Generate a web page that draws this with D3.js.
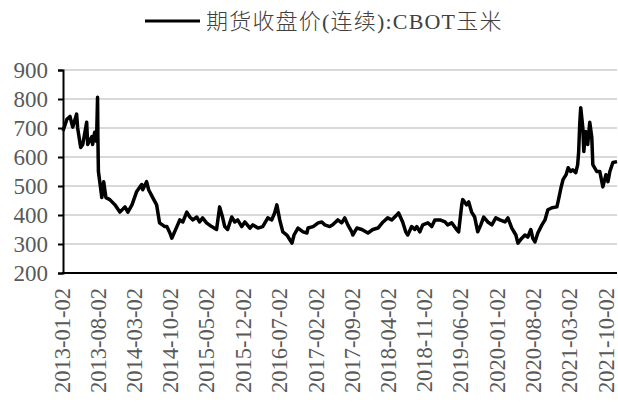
<!DOCTYPE html>
<html>
<head>
<meta charset="utf-8">
<script src="https://cdn.jsdelivr.net/npm/d3@7"></script>
<style>
  body { margin: 0; background: #fff; }
  svg { display: block; }
</style>
</head>
<body>
<svg id="chart" width="618" height="403"></svg>
<script>
// series name
const seriesName = "期货收盘价(连续):CBOT玉米";

// dates + closing prices
const dates = [
  "2013-01-02","2013-01-25","2013-02-12","2013-02-28","2013-03-23","2013-03-29","2013-04-16","2013-04-28",
  "2013-05-21","2013-05-27","2013-06-20","2013-06-25","2013-07-07","2013-07-18","2013-07-24","2013-07-26",
  "2013-07-29","2013-08-06","2013-08-18","2013-08-29","2013-09-11","2013-10-04","2013-11-03","2013-12-02",
  "2014-01-01","2014-01-18","2014-02-11","2014-03-10","2014-04-09","2014-04-15","2014-05-08","2014-05-20",
  "2014-06-13","2014-07-06","2014-07-23","2014-08-23","2014-09-04","2014-09-22","2014-10-03","2014-11-02",
  "2014-11-19","2014-12-07","2014-12-30","2015-01-17","2015-02-04","2015-02-27","2015-03-15","2015-04-02",
  "2015-04-25","2015-05-25","2015-06-23","2015-07-11","2015-07-28","2015-08-10","2015-08-27","2015-09-20",
  "2015-10-08","2015-10-25","2015-11-18","2015-12-06","2016-01-05","2016-01-22","2016-02-21","2016-03-20",
  "2016-04-19","2016-05-12","2016-05-29","2016-06-11","2016-06-28","2016-07-16","2016-08-09","2016-09-08",
  "2016-09-20","2016-10-13","2016-11-12","2016-12-05","2016-12-11","2017-01-10","2017-02-09","2017-03-02",
  "2017-03-19","2017-04-18","2017-05-05","2017-06-04","2017-06-27","2017-07-15","2017-08-02","2017-08-25",
  "2017-08-31","2017-09-24","2017-10-23","2017-11-28","2017-12-27","2018-01-26","2018-02-25","2018-03-24",
  "2018-04-17","2018-05-16","2018-05-27","2018-06-20","2018-07-08","2018-07-20","2018-08-12","2018-08-30",
  "2018-09-11","2018-09-29","2018-10-16","2018-11-15","2018-12-08","2018-12-26","2019-01-25","2019-02-24",
  "2019-03-11","2019-04-04","2019-05-03","2019-05-15","2019-06-02","2019-06-08","2019-07-01","2019-07-13",
  "2019-07-30","2019-08-17","2019-09-04","2019-09-22","2019-10-09","2019-11-02","2019-11-26","2019-12-19",
  "2020-01-12","2020-02-11","2020-02-28","2020-03-22","2020-04-15","2020-04-27","2020-05-20","2020-06-07",
  "2020-06-24","2020-07-12","2020-07-23","2020-08-05","2020-08-22","2020-09-15","2020-10-03","2020-10-20",
  "2020-11-13","2020-12-12","2020-12-24","2021-01-05","2021-01-17","2021-02-04","2021-02-16","2021-03-03",
  "2021-03-15","2021-04-02","2021-04-13","2021-04-19","2021-04-25","2021-05-01","2021-05-13","2021-05-19",
  "2021-05-30","2021-06-11","2021-06-23","2021-07-05","2021-07-11","2021-08-03","2021-08-21","2021-09-08",
  "2021-09-26","2021-10-08","2021-10-19","2021-11-06","2021-11-30"
];
const prices = [
  690,730,740,703,748,700,633,643,
  720,643,670,643,685,654,806,667,
  550,515,460,515,460,453,435,410,
  428,410,435,480,505,487,515,487,
  460,435,373,360,360,338,320,360,
  383,376,410,393,383,393,376,390,
  373,360,350,428,393,360,350,393,
  376,383,360,376,355,366,355,360,
  390,383,407,435,383,342,331,303,
  331,355,342,338,355,360,373,376,
  366,360,366,383,373,390,366,342,
  331,355,350,338,350,355,376,390,
  383,400,407,376,342,331,360,350,
  360,342,366,373,360,383,383,376,
  366,373,350,342,435,453,435,445,
  410,393,342,366,393,376,366,390,
  383,376,390,355,331,303,320,331,
  324,350,320,307,338,366,383,418,
  425,428,460,494,522,539,563,550,
  556,546,574,619,713,770,703,619,
  688,643,720,667,574,550,550,497,
  539,515,550,581,584
];

const yTicks = [200, 300, 400, 500, 600, 700, 800, 900];
const xTickLabels = [
  "2013-01-02","2013-08-02","2014-03-02","2014-10-02","2015-05-02","2015-12-02","2016-07-02","2017-02-02",
  "2017-09-02","2018-04-02","2018-11-02","2019-06-02","2020-01-02","2020-08-02","2021-03-02","2021-10-02"
];

const parse = d3.timeParse("%Y-%m-%d");
const data = dates.map((d, i) => ({ date: parse(d), value: prices[i] }));

const svg = d3.select("#chart");
const plotLeft = 63, plotRight = 617, plotTop = 70, plotBottom = 273;

const x = d3.scaleTime()
  .domain([parse("2013-01-02"), parse("2021-11-30")])
  .range([plotLeft, plotRight]);
const y = d3.scaleLinear().domain([200, 900]).range([plotBottom, plotTop]);

const tickFont = "'Liberation Serif', 'Times New Roman', serif";

// gridlines
svg.append("g")
  .selectAll("line")
  .data(yTicks.filter(t => t > 200))
  .enter()
  .append("line")
  .attr("x1", plotLeft).attr("x2", plotRight)
  .attr("y1", d => y(d)).attr("y2", d => y(d))
  .attr("stroke", "#d9d9d9")
  .attr("stroke-width", 2);

// y axis
const yAxis = svg.append("g")
  .attr("transform", `translate(${plotLeft},0)`)
  .call(d3.axisLeft(y).tickValues(yTicks).tickSize(5).tickPadding(10));
yAxis.select(".domain").attr("stroke", "#000").attr("stroke-width", 2);
yAxis.selectAll(".tick line").attr("stroke", "#000").attr("stroke-width", 2);
yAxis.selectAll("text")
  .attr("fill", "#595959")
  .style("font-family", tickFont)
  .style("font-size", "23px");

// x axis line
svg.append("line")
  .attr("x1", plotLeft - 1).attr("x2", plotRight)
  .attr("y1", plotBottom).attr("y2", plotBottom)
  .attr("stroke", "#000")
  .attr("stroke-width", 2);

// x labels, rotated
svg.append("g")
  .selectAll("text")
  .data(xTickLabels)
  .enter()
  .append("text")
  .attr("transform", d => `translate(${x(parse(d))},${plotBottom + 15}) rotate(-90)`)
  .attr("text-anchor", "end")
  .attr("dy", "0.3em")
  .attr("fill", "#595959")
  .style("font-family", tickFont)
  .style("font-size", "22.5px")
  .text(d => d);

// price line
const line = d3.line()
  .x(d => x(d.date))
  .y(d => y(d.value));

svg.append("path")
  .datum(data)
  .attr("fill", "none")
  .attr("stroke", "#000")
  .attr("stroke-width", 3.5)
  .attr("stroke-linejoin", "round")
  .attr("d", line);

// legend
svg.append("line")
  .attr("x1", 145).attr("x2", 200)
  .attr("y1", 21).attr("y2", 21)
  .attr("stroke", "#000")
  .attr("stroke-width", 3);

svg.append("text")
  .attr("x", 206)
  .attr("y", 29)
  .attr("fill", "#404040")
  .style("font-family", "'Liberation Serif', 'Noto Sans CJK SC', serif")
  .style("font-weight", 300)
  .style("font-size", "22px")
  .style("letter-spacing", "1.2px")
  .text(seriesName);
</script>
</body>
</html>
